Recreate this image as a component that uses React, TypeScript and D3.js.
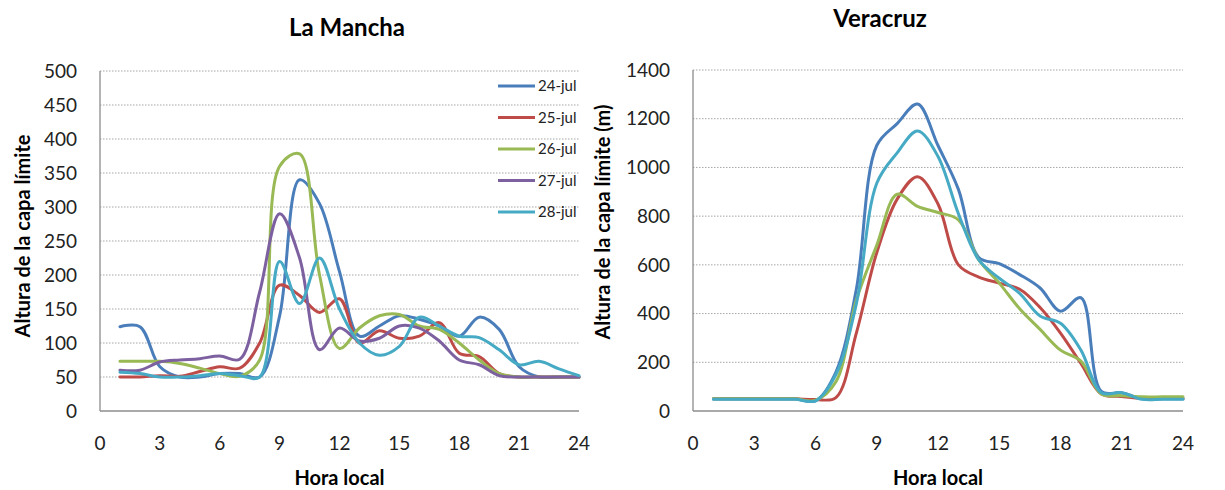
import React from "react";
import * as d3 from "d3";

// Hours of the day sampled (1..24)
const HOURS = d3.range(1, 25);

// La Mancha boundary-layer height (m), one value per hour
const manchaJul24 = [124, 124, 65, 50, 50, 55, 55, 50, 140, 340, 305, 205, 110, 125, 140, 135, 125, 110, 138, 120, 65, 50, 50, 50];
const manchaJul25 = [50, 50, 52, 51, 58, 65, 63, 100, 185, 170, 145, 165, 100, 118, 107, 110, 130, 85, 80, 55, 50, 50, 50, 50];
const manchaJul26 = [73, 73, 73, 70, 63, 55, 51, 75, 360, 378, 200, 92, 122, 140, 142, 125, 120, 100, 75, 55, 50, 50, 50, 50];
const manchaJul27 = [60, 60, 72, 75, 77, 81, 76, 175, 290, 225, 90, 122, 103, 107, 125, 122, 103, 75, 68, 52, 50, 50, 50, 50];
const manchaJul28 = [57, 55, 50, 50, 52, 55, 52, 50, 220, 158, 225, 150, 100, 82, 95, 138, 125, 110, 108, 90, 68, 73, 62, 52];

// Veracruz boundary-layer height (m), one value per hour
const veracruzJul24 = [50, 50, 50, 50, 50, 42, 160, 500, 1090, 1180, 1260, 1090, 910, 630, 605, 560, 505, 410, 465, 80, 75, 50, 50, 50];
const veracruzJul25 = [50, 50, 50, 50, 50, 47, 55, 320, 650, 870, 962, 850, 600, 550, 525, 500, 425, 320, 195, 70, 60, 52, 52, 52];
const veracruzJul26 = [50, 50, 50, 50, 50, 44, 120, 455, 680, 890, 840, 815, 785, 620, 525, 420, 335, 250, 205, 70, 63, 58, 58, 58];
const veracruzJul28 = [48, 48, 48, 48, 48, 42, 150, 440, 935, 1060, 1150, 1045, 810, 620, 545, 483, 390, 360, 250, 75, 75, 48, 48, 48];

const X_TICKS = [0, 3, 6, 9, 12, 15, 18, 21, 24];
const MANCHA_Y_TICKS = [0, 50, 100, 150, 200, 250, 300, 350, 400, 450, 500];
const VERACRUZ_Y_TICKS = [0, 200, 400, 600, 800, 1000, 1200, 1400];

const COLORS: Record<string, string> = {
  "24-jul": "#4a7ebb",
  "25-jul": "#be4b48",
  "26-jul": "#98b954",
  "27-jul": "#7d60a0",
  "28-jul": "#46aac5",
};

type Series = { name: string; values: number[] };

const manchaSeries: Series[] = [
  { name: "24-jul", values: manchaJul24 },
  { name: "25-jul", values: manchaJul25 },
  { name: "26-jul", values: manchaJul26 },
  { name: "27-jul", values: manchaJul27 },
  { name: "28-jul", values: manchaJul28 },
];

const veracruzSeries: Series[] = [
  { name: "24-jul", values: veracruzJul24 },
  { name: "25-jul", values: veracruzJul25 },
  { name: "26-jul", values: veracruzJul26 },
  { name: "28-jul", values: veracruzJul28 },
];

const FONT = "Lato, 'Open Sans', 'DejaVu Sans', sans-serif";

type PanelProps = {
  title: string;
  titleX: number;
  titleY: number;
  series: Series[];
  yTicks: number[];
  left: number;
  right: number;
  top: number;
  bottom: number;
  yTitle: string;
  yTitleX: number;
  yTitleY: number;
  legend?: boolean;
};

function Panel(p: PanelProps) {
  const x = d3.scaleLinear().domain([0, 24]).range([p.left, p.right]);
  const yMax = p.yTicks[p.yTicks.length - 1];
  const y = d3.scaleLinear().domain([0, yMax]).range([p.bottom, p.top]);
  const line = d3
    .line<number>()
    .x((_, i) => x(HOURS[i]))
    .y((d) => y(d))
    .curve(d3.curveCatmullRom.alpha(0.5));

  return (
    <g>
      <text x={p.titleX} y={p.titleY} textAnchor="middle" fontFamily={FONT} fontWeight={700} fontSize={24} fill="#000">
        {p.title}
      </text>

      {/* horizontal gridlines */}
      {p.yTicks.filter((t) => t > 0).map((t) => (
        <line key={t} x1={p.left} x2={p.right} y1={y(t)} y2={y(t)} stroke="#a6a6a6" strokeWidth={1} strokeDasharray="1.5 1.5" />
      ))}

      {/* axes */}
      <line x1={p.left} x2={p.left} y1={p.top} y2={p.bottom} stroke="#8c8c8c" strokeWidth={1.3} />
      <line x1={p.left} x2={p.right} y1={p.bottom} y2={p.bottom} stroke="#8c8c8c" strokeWidth={1.3} />

      {/* tick labels */}
      {p.yTicks.map((t) => (
        <text key={t} x={p.left - 23} y={y(t)} dy="0.35em" textAnchor="end" fontFamily={FONT} fontSize={19} fill="#222">
          {t}
        </text>
      ))}
      {X_TICKS.map((t) => (
        <text key={t} x={x(t)} y={450} textAnchor="middle" fontFamily={FONT} fontSize={19} fill="#222">
          {t}
        </text>
      ))}

      <text x={(p.left + p.right) / 2} y={485} textAnchor="middle" fontFamily={FONT} fontWeight={700} fontSize={20} fill="#000">
        Hora local
      </text>
      <text
        transform={`translate(${p.yTitleX},${p.yTitleY}) rotate(-90)`}
        textAnchor="middle"
        dy="0.35em"
        fontFamily={FONT}
        fontWeight={700}
        fontSize={20}
        fill="#000"
      >
        {p.yTitle}
      </text>

      {/* series */}
      {p.series.map((s) => (
        <path key={s.name} d={line(s.values) || ""} fill="none" stroke={COLORS[s.name]} strokeWidth={3} strokeLinejoin="round" strokeLinecap="round" />
      ))}

      {p.legend &&
        p.series.map((s, i) => {
          const ly = 86 + i * 31.5;
          return (
            <g key={s.name}>
              <line x1={498} x2={535} y1={ly} y2={ly} stroke={COLORS[s.name]} strokeWidth={3} />
              <text x={538} y={ly} dy="0.35em" fontFamily={FONT} fontSize={15} fill="#222">
                {s.name}
              </text>
            </g>
          );
        })}
    </g>
  );
}

export default function App() {
  return (
    <svg
      width={1225}
      height={490}
      viewBox="0 0 1225 490"
      style={{ position: "absolute", left: 0, top: 0, background: "#fff" }}
    >
      <rect x={0} y={0} width={1225} height={490} fill="#fff" />
      <Panel
        title="La Mancha"
        titleX={347}
        titleY={36}
        series={manchaSeries}
        yTicks={MANCHA_Y_TICKS}
        left={100}
        right={579}
        top={71}
        bottom={411}
        yTitle="Altura de la capa límite"
        yTitleX={23}
        yTitleY={236}
        legend
      />
      <Panel
        title="Veracruz"
        titleX={880}
        titleY={27}
        series={veracruzSeries}
        yTicks={VERACRUZ_Y_TICKS}
        left={693}
        right={1183}
        top={70}
        bottom={411}
        yTitle="Altura de la capa límite (m)"
        yTitleX={603}
        yTitleY={222}
      />
    </svg>
  );
}
